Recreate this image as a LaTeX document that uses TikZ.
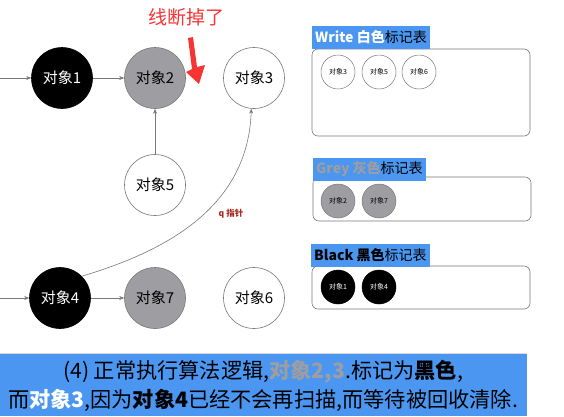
\documentclass[tikz,border=0pt]{standalone}
\usepackage{fontspec}
\setmainfont{Noto Sans CJK SC}
\usetikzlibrary{arrows.meta, positioning}
\definecolor{bandblue}{RGB}{74,150,240}
\definecolor{objgrey}{RGB}{158,158,162}
\definecolor{linegrey}{RGB}{120,120,120}
\definecolor{warnred}{RGB}{246,52,52}
\definecolor{qred}{RGB}{165,40,30}
\tikzset{
  obj/.style={circle, draw=linegrey, line width=0.6pt, minimum size=61pt, inner sep=0pt, font=\fontsize{15}{15}\selectfont},
  whiteobj/.style={obj, fill=white},
  greyobj/.style={obj, fill=objgrey},
  blackobj/.style={obj, fill=black, draw=black, text=white},
  mini/.style={circle, draw=linegrey, line width=0.5pt, minimum size=34pt, inner sep=0pt, font=\fontsize{7}{7}\selectfont},
  panel/.style={draw=linegrey, line width=0.6pt, rounded corners=6pt},
  tag/.style={fill=bandblue, anchor=south west, inner xsep=3pt, inner ysep=0pt, minimum height=23pt, font=\fontsize{14}{14}\selectfont},
  link/.style={draw=linegrey, line width=0.6pt, -{Stealth[length=5pt, width=4pt]}},
}
\begin{document}
\begin{tikzpicture}[x=1pt, y=-1pt]
  \useasboundingbox (0,0) rectangle (564,416);
  % upper row of objects
  \coordinate (in1) at (0,78);
  \node[blackobj] (o1) at (62,78)  {对象1};
  \node[greyobj]  (o2) at (155,78) {对象2};
  \node[whiteobj] (o3) at (254,78) {对象3};
  \node[whiteobj] (o5) at (155,185) {对象5};
  % lower row of objects
  \coordinate (in4) at (0,298);
  \node[blackobj] (o4) at (60,298)  {对象4};
  \node[greyobj]  (o7) at (155,298) {对象7};
  \node[whiteobj] (o6) at (254,298) {对象6};
  % references
  \draw[link] (in1) -- (o1);
  \draw[link] (o1) -- (o2);
  \draw[link] (o5) -- (o2);
  \draw[link] (in4) -- (o4);
  \draw[link] (o4) -- (o7);
  \draw[link] (o4.45) .. controls (170,250) and (248,205) .. (o3.265);
  \node[text=qred, font=\bfseries\fontsize{8.5}{8.5}\selectfont] (qlbl) at (231,214) {q 指针};
  % broken line note
  \node[text=warnred, font=\fontsize{19}{19}\selectfont] (note) at (186,17) {线断掉了};
  \fill[warnred] (188,38) -- (193,37) -- (197,67) -- (205,65) -- (199,84) -- (186,72) -- (192,69) -- cycle;
  % white table
  \draw[panel] (312,49) rectangle (530,136);
  \node[tag] (wtag) at (312,49) {\textcolor{white}{\bfseries Write 白色}标记表};
  \node[mini, fill=white] (w3) at (338,72) {对象3};
  \node[mini, fill=white] (w5) at (379,72) {对象5};
  \node[mini, fill=white] (w6) at (419,72) {对象6};
  % grey table
  \draw[panel] (313,177) rectangle (531,221);
  \node[tag] (gtag) at (313,181) {\textcolor{objgrey}{\bfseries Grey 灰色}标记表};
  \node[mini, fill=objgrey] (g2) at (338,201) {对象2};
  \node[mini, fill=objgrey] (g7) at (379,201) {对象7};
  % black table
  \draw[panel] (312,266) rectangle (530,309);
  \node[tag] (btag) at (311,267) {{\bfseries Black 黑色}标记表};
  \node[mini, fill=black, draw=black, text=white] (b1) at (338,287) {对象1};
  \node[mini, fill=black, draw=black, text=white] (b4) at (379,287) {对象4};
  % caption band
  \fill[bandblue] (0,354) rectangle (527,416);
  \draw[black!15, line width=0.8pt] (0,353) -- (527,353);
  \node[font=\fontsize{21.2}{21.2}\selectfont] (cap1) at (263,372)
    {(4) 正常执行算法逻辑,\textcolor{objgrey}{\bfseries 对象2,3}.标记为{\bfseries 黑色},};
  \node[font=\fontsize{21.2}{21.2}\selectfont] (cap2) at (263,400)
    {而\textcolor{white}{\bfseries 对象3},因为{\bfseries 对象4}已经不会再扫描,而等待被回收清除.};
\end{tikzpicture}
\end{document}
